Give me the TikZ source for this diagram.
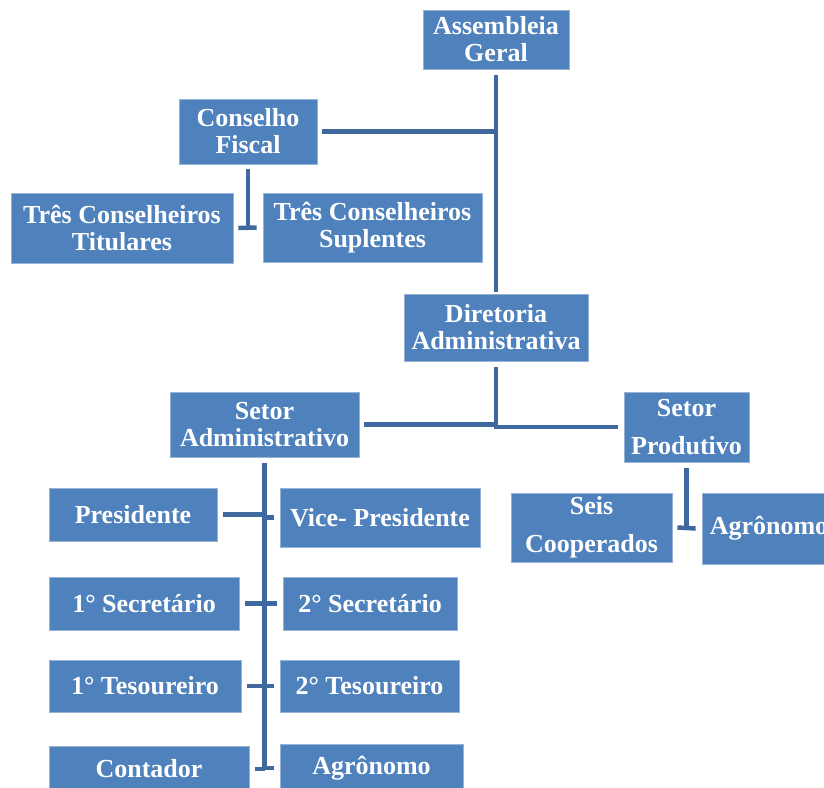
\documentclass[tikz,border=0pt]{standalone}
\usepackage{fontspec}
\setmainfont{Liberation Serif}
\usepackage{tikz}
\usetikzlibrary{calc}
\usepackage{xcolor}

\definecolor{boxblue}{RGB}{79,129,189}
\definecolor{boxedge}{RGB}{149,179,215}
\definecolor{linkblue}{RGB}{62,104,158}

\tikzset{
  orgbox/.style={fill=boxblue,draw=boxedge,line width=0.8pt,text=white,
    font=\fontsize{26}{27}\selectfont\bfseries,align=center,inner sep=0pt},
  tallbox/.style={orgbox,font=\fontsize{26}{38}\selectfont\bfseries},
  link/.style={draw=linkblue,line width=4.5pt}
}

\begin{document}
\begin{tikzpicture}[x=1pt,y=-1pt]
        \useasboundingbox (0,0) rectangle (824,787);
        \clip (0,0) rectangle (824,787);
        % top of the chart
        \node[orgbox,minimum width=146,minimum height=59] (assembleia) at (496,39.5) {Assembleia\\Geral};
        \node[orgbox,minimum width=138,minimum height=65] (conselho) at (248,131.5) {Conselho\\Fiscal};
        \node[orgbox,minimum width=222,minimum height=70] (titulares) at (122,228) {Três Conselheiros\\Titulares};
        \node[orgbox,minimum width=219,minimum height=69] (suplentes) at (372.5,227.5) {Três Conselheiros\\Suplentes};
        \node[orgbox,minimum width=184,minimum height=67] (diretoria) at (496,327.5) {Diretoria\\Administrativa};
        % the two sectors
        \node[orgbox,minimum width=189,minimum height=65] (setoradm) at (264.5,424.5) {Setor\\Administrativo};
        \node[tallbox,minimum width=125,minimum height=70] (setorprod) at (686.5,427) {Setor\\Produtivo};
        \node[tallbox,minimum width=161,minimum height=69] (seis) at (591.5,527.5) {Seis\\Cooperados};
        \node[orgbox,minimum width=134,minimum height=71] (agroprod) at (769,528.5) {Agrônomo};
        % administrative staff
        \node[orgbox,minimum width=168,minimum height=53] (presidente) at (133,514.5) {Presidente};
        \node[orgbox,minimum width=200,minimum height=59] (vice) at (380,517.5) {Vice- Presidente};
        \node[orgbox,minimum width=190,minimum height=53] (sec1) at (144,603.5) {1° Secretário};
        \node[orgbox,minimum width=174,minimum height=53] (sec2) at (370,603.5) {2° Secretário};
        \node[orgbox,minimum width=192,minimum height=52] (tes1) at (145,686) {1° Tesoureiro};
        \node[orgbox,minimum width=179,minimum height=52] (tes2) at (369.5,686) {2° Tesoureiro};
        \node[orgbox,minimum width=200,minimum height=46] (contador) at (149,769) {Contador};
        \node[orgbox,minimum width=183,minimum height=48] (agroadm) at (371.5,768) {Agrônomo};

        % connectors
        \draw[link] ([yshift=-6]assembleia.south) -- ([yshift=2]diretoria.north);
        \draw[link] ([xshift=5]conselho.east) -- (conselho.east -| assembleia.south);
        \draw[link] ([yshift=-5]conselho.south) -- (conselho.south |- titulares.east);
        \draw[link] ([xshift=5]titulares.east) -- ([xshift=-6]suplentes.west);
        \draw[link] ([yshift=-6]diretoria.south) -- (diretoria.south |- setorprod.west)
          -- ([xshift=-6]setorprod.west);
        \draw[link] ([xshift=5]setoradm.east) -- (setoradm.east -| diretoria.south);
        \draw[link] ([yshift=-6]setorprod.south) -- (setorprod.south |- seis.east);
        \draw[link] ([xshift=5]seis.east) -- ([xshift=-6]agroprod.west);
        \draw[link] ([yshift=-6]setoradm.south) -- (setoradm.south |- contador.east);
        \foreach \l/\r in {presidente/vice,sec1/sec2,tes1/tes2,contador/agroadm} {
          \draw[link] ([xshift=6]\l.east) -- (\l.east -| setoradm.south);
          \draw[link] ([xshift=-6]\r.west) -- (\r.west -| setoradm.south);
        }
      \end{tikzpicture}
\end{document}
